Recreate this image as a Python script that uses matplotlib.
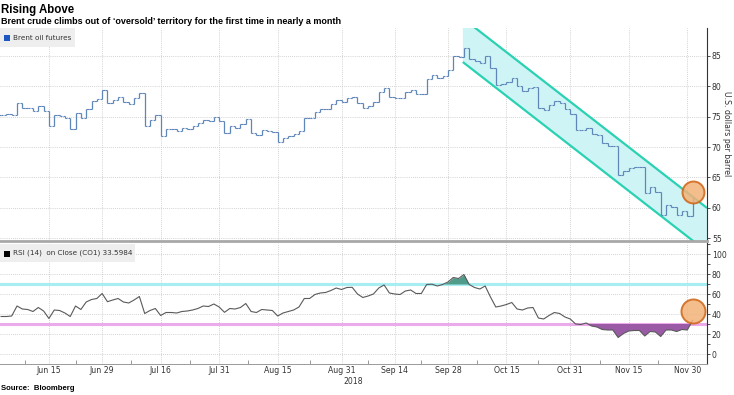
import numpy as np
import pandas as pd
import matplotlib
matplotlib.use("Agg")
import matplotlib.pyplot as plt
from matplotlib.patches import Rectangle

# trading days shown on the chart
dates = pd.bdate_range("2018-06-04", "2018-12-03")

# Brent front-month close, USD per barrel
close = [
    # June
    75.29, 75.38, 75.36, 77.32, 76.46, 76.46, 75.88, 76.74, 75.94, 73.44,
    75.34, 75.08, 74.74, 73.05, 75.55, 74.73, 76.31, 77.62, 77.85, 79.44,
    # July
    77.30, 77.76, 78.24, 77.39, 77.11, 78.07, 78.86, 73.40, 74.45, 75.33,
    71.84, 72.90, 72.90, 72.58, 73.07, 73.06, 73.44, 73.93, 74.54, 74.29,
    74.97, 74.25,
    # August
    72.39, 73.45, 73.21, 73.75, 74.65, 72.28, 72.07, 72.81, 72.61, 72.46,
    70.76, 71.43, 71.83, 72.21, 72.63, 74.78, 74.73, 75.82, 76.21, 76.31,
    77.14, 77.77, 77.42,
    # September
    78.15, 78.17, 77.27, 76.50, 76.83, 77.37, 79.06, 79.74, 78.18, 78.09,
    78.05, 79.03, 79.40, 78.70, 78.80, 81.20, 81.87, 81.34, 81.72, 82.72,
    # October
    84.98, 84.80, 86.29, 84.58, 84.16, 83.91, 85.00, 83.09, 80.26, 80.43,
    80.78, 81.41, 80.05, 79.29, 79.78, 79.83, 76.44, 76.17, 76.89, 77.62,
    77.34, 76.34, 75.47,
    # November
    72.89, 72.83, 73.17, 72.13, 72.07, 70.65, 70.18, 70.12, 65.47, 66.12,
    66.62, 66.76, 66.79, 62.53, 63.48, 62.60, 58.80, 60.48, 60.21, 58.76,
    59.51, 58.71,
    # December
    61.69,
]

# RSI(14) on close
rsi = [
    37.5, 37.5, 38, 48, 45, 44.5, 42.5, 46.5, 43, 35.5,
    44, 43.5, 41, 37.5, 48, 44.5, 52, 54.5, 55.5, 60.5,
    52.3, 54, 55.5, 52, 51, 54, 57.5, 40.5, 43.5, 45.5,
    38.5, 41.5, 41.5, 41, 42.5, 43, 44, 45.5, 48, 47.5,
    50, 47,
    41.7, 45.5, 45, 46.5, 50.5, 42.5, 41.5, 44.5, 44, 43.5,
    38, 41, 42.5, 44, 47, 55.5, 55.5, 59.5, 61, 61.5,
    63.5, 66, 64.5,
    66.5, 66.7, 60, 56.5, 58, 60, 66, 69, 61, 60,
    59.5, 63, 64, 60.5, 60.5, 69.5, 69.8, 68, 69.5, 72,
    76.5, 75.5, 79.5, 69.5, 66.5, 65, 68, 57, 47, 48,
    49.5, 51.5, 45, 44, 46, 46.5, 36, 35, 38.5, 41.5,
    40.5, 37, 35,
    30, 29.5, 31, 28, 27, 24.5, 24, 24, 16.5, 20.5,
    23, 23.5, 23.5, 18, 22.5, 22, 17.5, 24, 24, 22.5,
    24.5, 24,
    33.6,
]

tick_dates = ["2018-06-15", "2018-06-29", "2018-07-16", "2018-07-31",
              "2018-08-15", "2018-08-31", "2018-09-14", "2018-09-28",
              "2018-10-15", "2018-10-31", "2018-11-15", "2018-11-30"]
tick_labels = ["Jun 15", "Jun 29", "Jul 16", "Jul 31", "Aug 15", "Aug 31",
               "Sep 14", "Sep 28", "Oct 15", "Oct 31", "Nov 15", "Nov 30"]

# downward channel drawn from the October peak
channel_start = "2018-10-03"
channel_upper = 91.2
channel_lower = 84.0
channel_slope = -0.68  # dollars per trading day

highlight_price = 62.6
highlight_rsi = 43.0

W, H = 734, 395
fig = plt.figure(figsize=(W / 100, H / 100), dpi=100)
fig.patch.set_facecolor("white")


def box(l, t, r, b):
    return [l / W, 1 - b / H, (r - l) / W, (b - t) / H]


ax = fig.add_axes(box(0, 28, 707, 241))
ax2 = fig.add_axes(box(0, 243, 707, 364))

x = np.arange(len(dates))
close = np.array(close)
rsi = np.array(rsi)
opens = np.r_[close[0], close[:-1]]
xmin, xmax = -0.2, 132.7

grid_kw = dict(color="#c4c4c4", lw=0.6, ls=(0, (1, 1.5)))
tick_pos = dates.get_indexer(pd.to_datetime(tick_dates))
minor_pos = np.r_[tick_pos[0] - 4.5, (tick_pos[:-1] + tick_pos[1:]) / 2]

for a in (ax, ax2):
    a.set_xticks(tick_pos)
    a.set_xticks(minor_pos, minor=True)
    a.set_xlim(xmin, xmax)
    a.grid(True, axis="both", which="major", **grid_kw)
    a.set_axisbelow(True)
    a.yaxis.tick_right()
    for s in ("left", "top"):
        a.spines[s].set_visible(False)
    a.spines["right"].set_color("#333333")
    a.spines["right"].set_linewidth(0.8)
    a.tick_params(axis="y", which="both", direction="out", length=2.5, width=0.6,
                  color="#333333", labelsize=5.6, labelcolor="#333333", pad=1)

# --- price panel
c0 = dates.get_loc(pd.Timestamp(channel_start))
cx = np.array([c0 - 0.2, xmax])
up = channel_upper + channel_slope * (cx - cx[0])
lo = channel_lower + channel_slope * (cx - cx[0])
ax.fill([cx[0], cx[0], cx[1], cx[1]], [lo[0], up[0], up[1], lo[1]],
        color="#cff4f6", zorder=1, lw=0)
ax.plot(cx, up, color="#2ad1b2", lw=1.6, zorder=2, solid_capstyle="butt")
ax.plot(cx, lo, color="#2ad1b2", lw=1.6, zorder=2, solid_capstyle="butt")

bar_color = "#5f86b8"
ax.vlines(x, np.minimum(opens, close), np.maximum(opens, close),
          color=bar_color, lw=0.9, zorder=3)
ax.hlines(opens, x - 0.45, x, color=bar_color, lw=0.8, zorder=3)
ax.hlines(close, x, x + 0.45, color=bar_color, lw=0.8, zorder=3)

ax.scatter([x[-1]], [highlight_price], s=250, facecolor="#f3b278", alpha=0.85,
           edgecolor="#cf6416", linewidth=1.4, zorder=5)

ax.set_ylim(54.55, 89.6)
ax.set_yticks([55, 60, 65, 70, 75, 80, 85])
ax.tick_params(axis="x", which="both", length=0, labelbottom=False)
ax.spines["bottom"].set_color("#a8a8a8")
ax.spines["bottom"].set_linewidth(2)

# --- RSI panel
ax2.plot(x, rsi, color="#5a5a5a", lw=0.8, zorder=4)
ax2.axhline(70, color="#a6eef2", lw=2.2, zorder=2)
ax2.axhline(30, color="#ebaaea", lw=2.2, zorder=2)
ax2.fill_between(x, rsi, 70, where=rsi > 70, interpolate=True,
                 color="#4f9c8a", lw=0, zorder=3)
ax2.fill_between(x, rsi, 30, where=rsi < 30, interpolate=True,
                 color="#9b5aa6", lw=0, zorder=3)
ax2.scatter([x[-1]], [highlight_rsi], s=300, facecolor="#f3b278", alpha=0.85,
            edgecolor="#cf6416", linewidth=1.4, zorder=5)

ax2.set_ylim(-10, 111)
ax2.set_yticks([0, 20, 40, 60, 80, 100])
ax2.set_yticks([10, 30, 50, 70, 90, 110], minor=True)
ax2.set_xticklabels(tick_labels)
ax2.tick_params(axis="x", which="major", length=0, labelsize=5.6,
                labelcolor="#333333", pad=1.5)
ax2.tick_params(axis="x", which="minor", length=3, width=0.6, color="#888888",
                direction="in")
ax2.spines["bottom"].set_color("#9a9a9a")
ax2.spines["bottom"].set_linewidth(0.7)

# --- legends
fig.add_artist(Rectangle((0, 1 - 47 / H), 75 / W, 19 / H, transform=fig.transFigure,
                         facecolor="#eeeeee", edgecolor="none", zorder=6))
fig.add_artist(Rectangle((4 / W, 1 - 41 / H), 6 / W, 6 / H, transform=fig.transFigure,
                         facecolor="#1c57c2", edgecolor="none", zorder=7))
fig.text(13 / W, 1 - 37.5 / H, "Brent oil futures", fontsize=5.2, color="#333333",
         va="center", ha="left", zorder=7)

fig.add_artist(Rectangle((0, 1 - 262 / H), 135 / W, 18 / H, transform=fig.transFigure,
                         facecolor="#eeeeee", edgecolor="none", zorder=6))
fig.add_artist(Rectangle((4 / W, 1 - 256.5 / H), 6 / W, 6 / H, transform=fig.transFigure,
                         facecolor="#000000", edgecolor="none", zorder=7))
fig.text(13 / W, 1 - 253 / H, "RSI (14)  on Close (CO1) 33.5984", fontsize=5.2,
         color="#333333", va="center", ha="left", zorder=7)

# --- titles and labels
fig.text(1 / W, 1 - 10 / H, "Rising Above", fontsize=8.3, weight="bold",
         family="Liberation Sans", va="center", ha="left")
fig.text(1 / W, 1 - 22 / H,
         "Brent crude climbs out of \u2018oversold\u2019 territory for the first time in nearly a month",
         fontsize=6.5, weight="bold", family="Liberation Sans", va="center", ha="left")
fig.text(727 / W, 1 - 134 / H, "U.S. dollars per barrel", fontsize=5.6, color="#333333",
         rotation=270, va="center", ha="center")
fig.text(353 / W, 1 - 381 / H, "2018", fontsize=5.6, color="#333333",
         va="center", ha="center")
fig.text(1 / W, 1 - 388 / H, "Source:  Bloomberg", fontsize=5.6, weight="bold",
         family="Liberation Sans", va="center", ha="left")

fig.savefig("out.png", dpi=100)
